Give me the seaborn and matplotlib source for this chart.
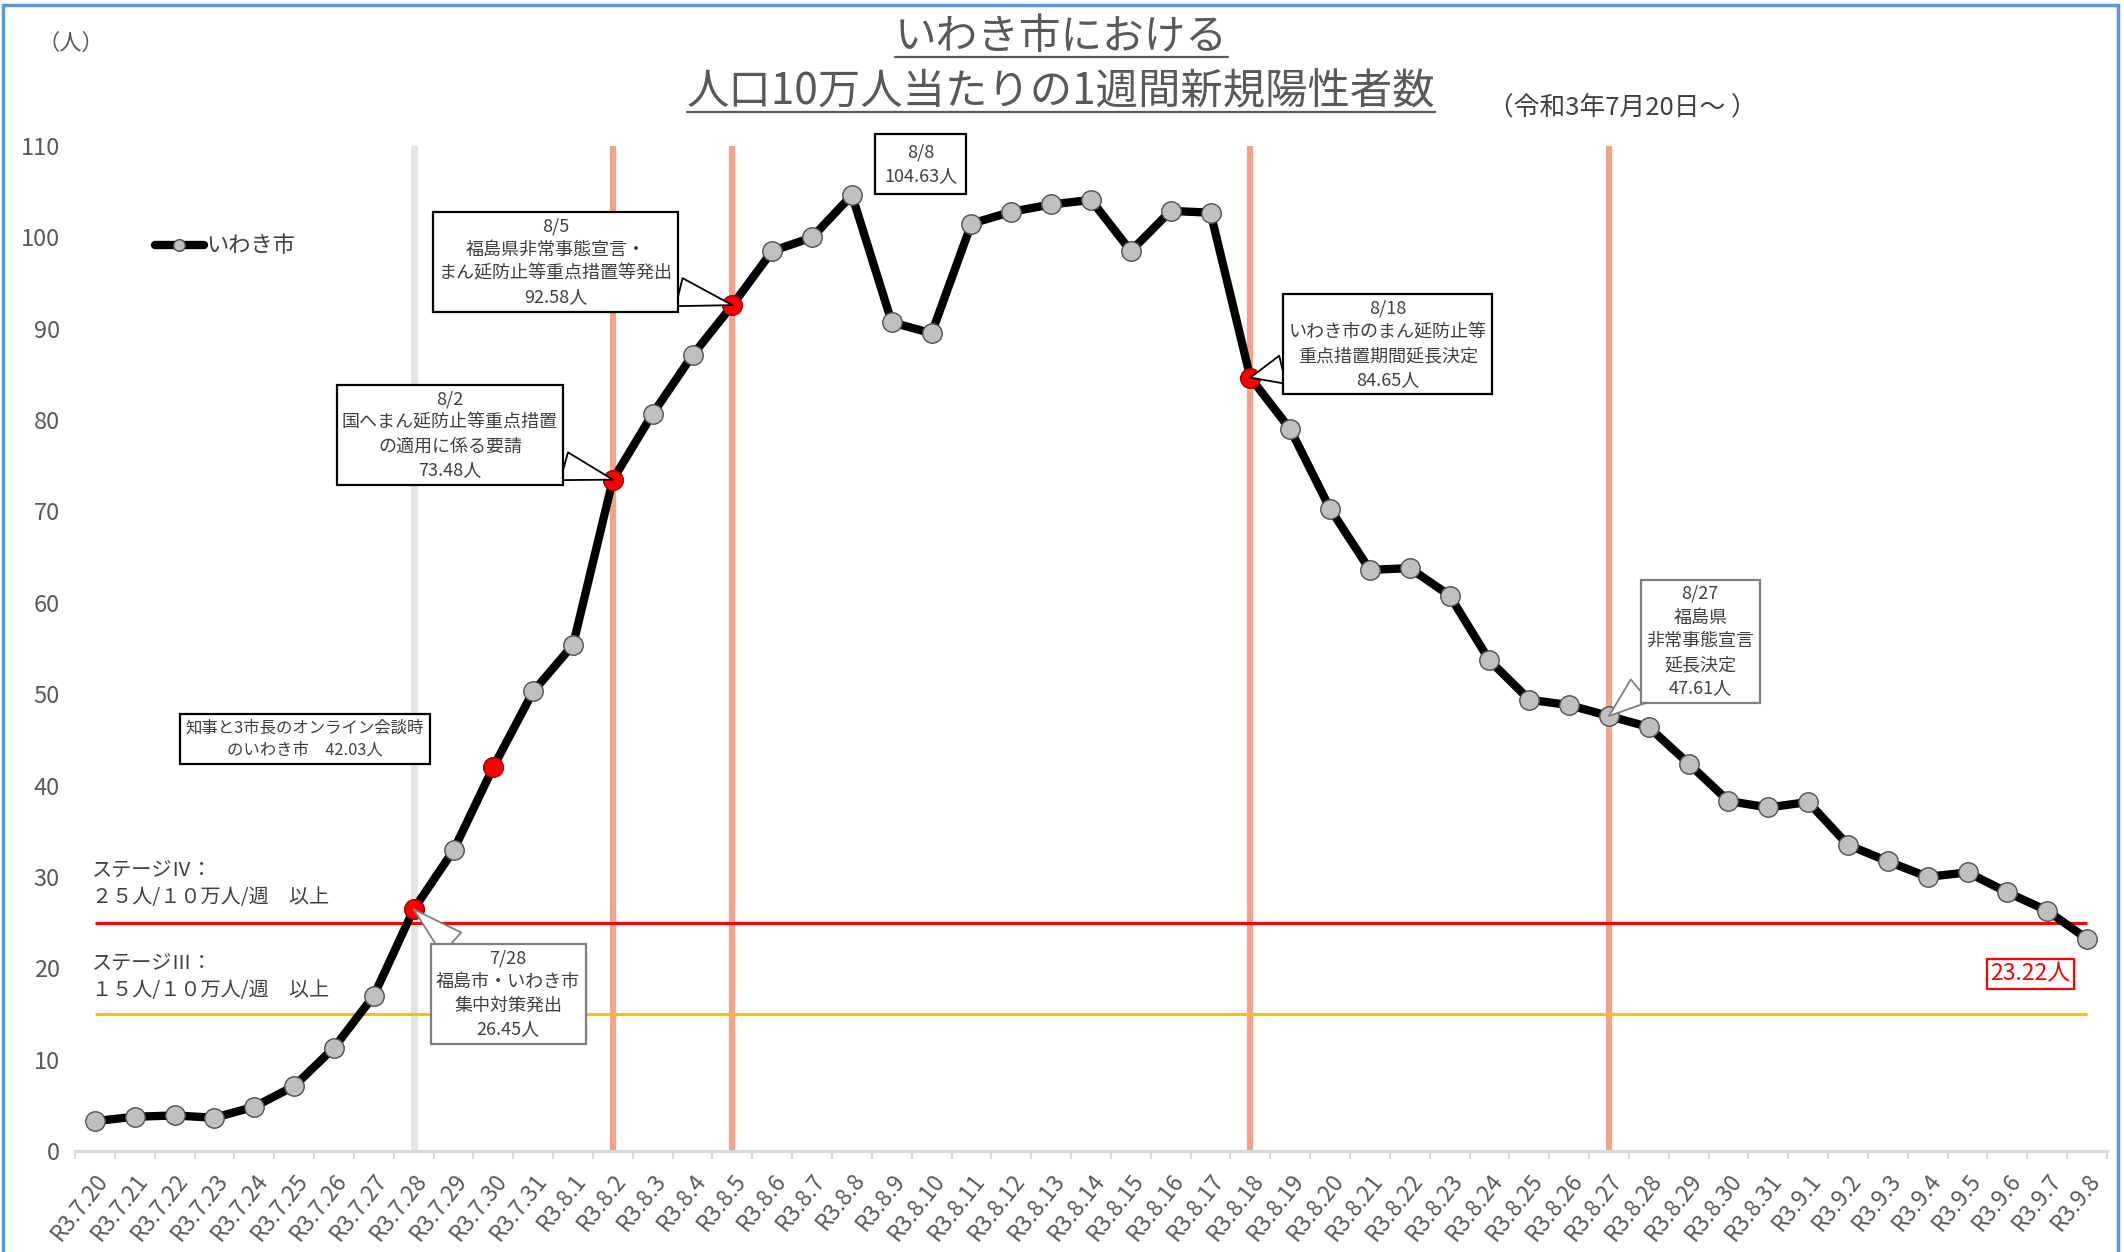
import numpy as np
import pandas as pd
import seaborn as sns
import matplotlib
matplotlib.use("Agg")
import matplotlib.pyplot as plt
from matplotlib.lines import Line2D
from matplotlib.patches import Rectangle

# ---------------- data ----------------
dates = (["R3.7.%d" % d for d in range(20, 32)]
         + ["R3.8.%d" % d for d in range(1, 32)]
         + ["R3.9.%d" % d for d in range(1, 9)])
values = [3.27, 3.75, 3.89, 3.64, 4.84, 7.1, 11.3, 17.0, 26.45, 32.9,
          42.03, 50.3, 55.4, 73.48, 80.7, 87.1, 92.58, 98.5, 100.0, 104.63,
          90.7, 89.5, 101.5, 102.8, 103.6, 104.1, 98.5, 102.9, 102.7, 84.65,
          79.0, 70.3, 63.6, 63.8, 60.8, 53.7, 49.4, 48.8, 47.61, 46.4,
          42.4, 38.3, 37.6, 38.2, 33.5, 31.7, 30.0, 30.5, 28.3, 26.3, 23.22]
series_name = "いわき市"
highlight_dates = ["R3.7.28", "R3.7.30", "R3.8.2", "R3.8.5", "R3.8.18"]
gray_vline_dates = ["R3.7.28"]
salmon_vline_dates = ["R3.8.2", "R3.8.5", "R3.8.18", "R3.8.27"]
stage4_level = 25
stage3_level = 15
yticks = list(range(0, 111, 10))

df = pd.DataFrame({"date": dates, "value": values})
df["pos"] = np.arange(len(df))
pos_of = dict(zip(df["date"], df["pos"]))
val_of = dict(zip(df["date"], df["value"]))

# ---------------- style ----------------
sns.set_theme(style="white")
plt.rcParams["font.family"] = ["Noto Sans CJK JP", "DejaVu Sans"]
TXT = "#404040"
GRAY = "#595959"

W, H = 2124, 1252
fig = plt.figure(figsize=(W / 100, H / 100), dpi=100)
ax = fig.add_axes([75 / W, 1 - 1151 / H, (2107 - 75) / W, (1151 - 146) / H])

# vertical event lines
for d in gray_vline_dates:
    ax.axvline(pos_of[d], color="#E3E3E3", lw=5, zorder=1)
for d in salmon_vline_dates:
    ax.axvline(pos_of[d], color="#F2A488", lw=4.5, zorder=1)

# stage lines
ax.hlines(stage4_level, df["pos"].iloc[0], df["pos"].iloc[-1], color="#FF0000", lw=2.2, zorder=2)
ax.hlines(stage3_level, df["pos"].iloc[0], df["pos"].iloc[-1], color="#FFC000", lw=2.2, zorder=2)

# main line
sns.lineplot(data=df, x="pos", y="value", ax=ax, color="black", lw=6,
             marker="o", markersize=14, markerfacecolor="#BFBFBF",
             markeredgecolor="#505050", markeredgewidth=1.0, label=series_name,
             zorder=3)
hl = df[df["date"].isin(highlight_dates)]
sns.scatterplot(data=hl, x="pos", y="value", ax=ax, s=14 ** 2, color="#FF0000",
                edgecolor="#B00000", linewidth=1.0, zorder=4, legend=False)

# axes formatting
ax.set_xlim(-0.5, len(df) - 0.5)
ax.set_ylim(0, 110)
ax.set_yticks(yticks)
ax.set_yticklabels([str(v) for v in yticks])
ax.set_xticks(df["pos"])
ax.set_xticklabels(df["date"], rotation=52, ha="right", rotation_mode="anchor")
ax.set_xticks(np.arange(len(df) + 1) - 0.5, minor=True)
ax.tick_params(axis="y", length=0, pad=11, labelsize=17, labelcolor=GRAY)
ax.tick_params(axis="x", which="major", length=0, pad=13, labelsize=16.5, labelcolor=GRAY)
ax.tick_params(axis="x", which="minor", length=6, width=1.5, color="#D9D9D9", bottom=True)
for s in ["left", "right", "top"]:
    ax.spines[s].set_visible(False)
ax.spines["bottom"].set_color("#D9D9D9")
ax.spines["bottom"].set_linewidth(2.2)
ax.set_xlabel("")
ax.set_ylabel("")
ax.grid(False)

# legend
leg = ax.legend(loc="center left", bbox_to_anchor=(155 / W, 1 - 246 / H),
                bbox_transform=fig.transFigure, frameon=False, fontsize=16,
                handlelength=2.2, handletextpad=0.1, borderpad=0,
                borderaxespad=0, markerscale=0.6)
for t in leg.get_texts():
    t.set_color(TXT)

# stage texts
ax.text(-0.08, 29.2, "ステージⅣ：\n２５人/１０万人/週　以上", ha="left", va="center",
        fontsize=14.5, color=TXT, linespacing=1.3)
ax.text(-0.08, 19.0, "ステージⅢ：\n１５人/１０万人/週　以上", ha="left", va="center",
        fontsize=14.5, color=TXT, linespacing=1.3)

# callouts: (date, text, box centre, edge colour, wedge, fontsize, pad)
callouts = [
    ("R3.7.28", "7/28\n福島市・いわき市\n集中対策発出\n{v}人", (10.37, 17.2), "#7F7F7F", True, 13, 0.3),
    ("R3.7.30", "知事と3市長のオンライン会談時\nのいわき市　{v}人", (5.27, 45.1), "black", False, 11.8, 0.35),
    ("R3.8.2", "8/2\n国へまん延防止等重点措置\nの適用に係る要請\n{v}人", (8.91, 78.4), "black", True, 13, 0.3),
    ("R3.8.5", "8/5\n福島県非常事態宣言・\nまん延防止等重点措置等発出\n{v}人", (11.57, 97.3), "black", True, 13, 0.3),
    ("R3.8.8", "8/8\n{v}人", (20.73, 108.0), "black", False, 13, 0.5),
    ("R3.8.18", "8/18\nいわき市のまん延防止等\n重点措置期間延長決定\n{v}人", (32.45, 88.3), "black", True, 13, 0.3),
    ("R3.8.27", "8/27\n福島県\n非常事態宣言\n延長決定\n{v}人", (40.29, 55.8), "#7F7F7F", True, 13, 0.3),
]
for d, txt, (bx, by), ec, wedge, fs, pad in callouts:
    label = txt.format(v="%.2f" % val_of[d])
    kw = dict(xy=(pos_of[d], val_of[d]), xytext=(bx, by), textcoords="data",
              ha="center", va="center", fontsize=fs, color=TXT, linespacing=1.4,
              bbox=dict(boxstyle="square,pad=%.2f" % pad, fc="white", ec=ec, lw=1.6),
              annotation_clip=False, zorder=6)
    if wedge:
        kw["arrowprops"] = dict(arrowstyle="wedge,tail_width=1.6", fc="white", ec=ec,
                                lw=1.3, shrinkA=0, shrinkB=0)
    ax.annotate(label, **kw)

# last value label
last = df.iloc[-1]
ax.text(48.57, 19.4, "%.2f人" % last["value"], ha="center", va="center", fontsize=16.5,
        color="#FF0000", zorder=6,
        bbox=dict(boxstyle="square,pad=0.15", fc="white", ec="#FF0000", lw=1.6))

# titles
t1 = fig.text(1061 / W, 1 - 38 / H, "いわき市における", ha="center", va="center",
              fontsize=30, color=GRAY)
t2 = fig.text(1061 / W, 1 - 92 / H, "人口10万人当たりの1週間新規陽性者数", ha="center",
              va="center", fontsize=30.5, color=GRAY)
fig.text(1622 / W, 1 - 108 / H, "（令和3年7月20日～ ）", ha="center", va="center",
         fontsize=18.5, color=TXT)
fig.text(71 / W, 1 - 43 / H, "（人）", ha="center", va="center", fontsize=16, color=GRAY)

# outer frame
fig.patches.append(Rectangle((3 / W, -0.05), (2118 - 3) / W, 1.05 - 5 / H,
                             transform=fig.transFigure, fill=False,
                             ec="#5B9BD5", lw=2.5, zorder=10))

# underline titles
fig.canvas.draw()
r = fig.canvas.get_renderer()
for t in (t1, t2):
    bb = t.get_window_extent(r)
    y = bb.y0 + 2
    fig.add_artist(Line2D([bb.x0 / W, bb.x1 / W], [y / H, y / H],
                          transform=fig.transFigure, color=GRAY, lw=1.6))

fig.savefig("out.png", dpi=100)
